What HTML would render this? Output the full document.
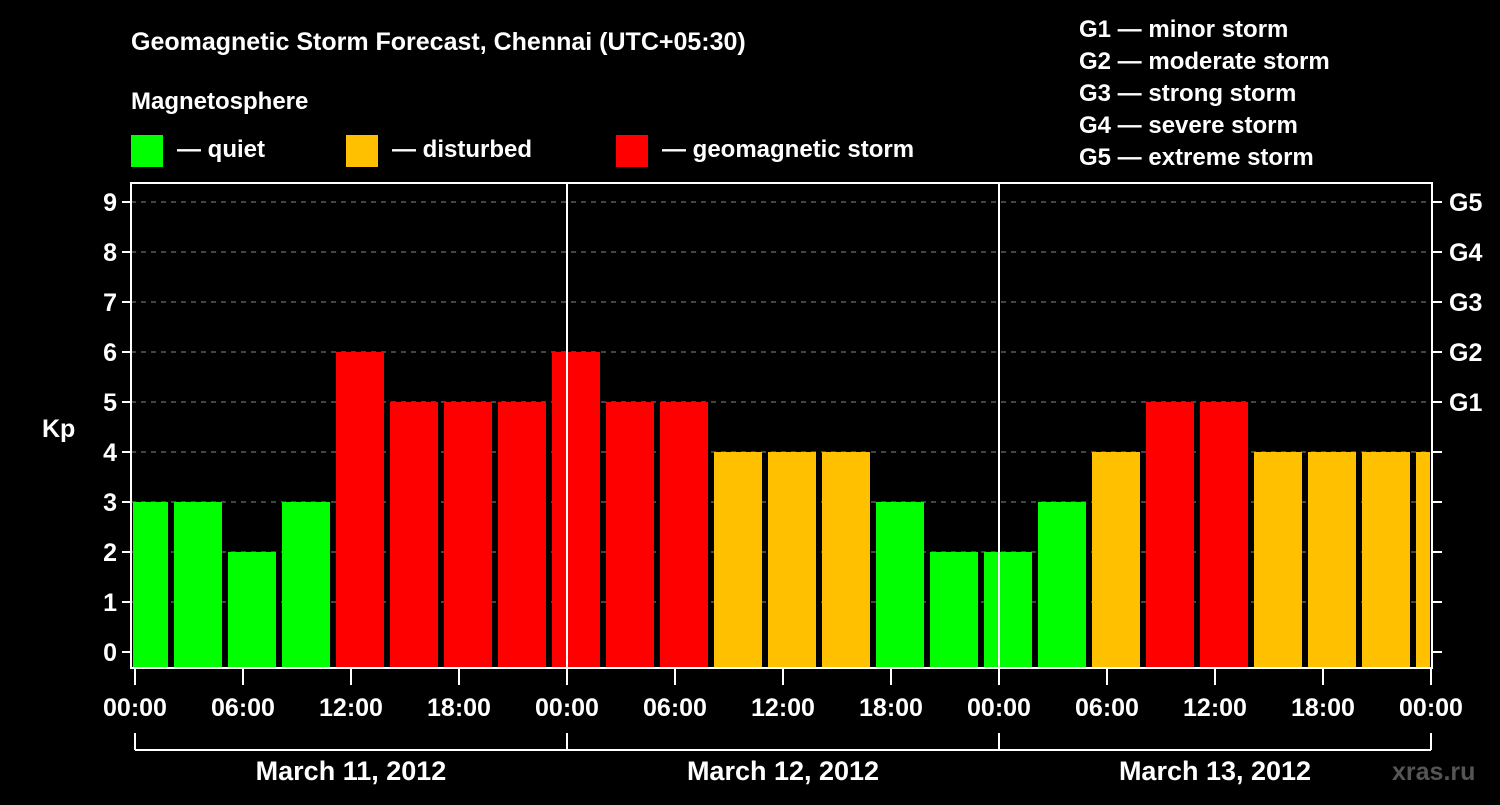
<!DOCTYPE html>
<html><head><meta charset="utf-8"><style>
body{margin:0;background:#000;width:1500px;height:800px;overflow:hidden}
svg text{font-family:"Liberation Sans",sans-serif;font-weight:bold;fill:#fff}
</style></head><body>
<svg id="chart" width="1500" height="800" xmlns="http://www.w3.org/2000/svg">
<text x="131" y="50" font-size="25">Geomagnetic Storm Forecast, Chennai (UTC+05:30)</text>
<text x="131" y="109" font-size="24">Magnetosphere</text>
<g><rect x="131" y="135" width="32" height="32" fill="#00ff00"/><text x="177" y="157" font-size="24">— quiet</text></g>
<g><rect x="346" y="135" width="32" height="32" fill="#ffc000"/><text x="392" y="157" font-size="24">— disturbed</text></g>
<g><rect x="616" y="135" width="32" height="32" fill="#ff0000"/><text x="662" y="157" font-size="24">— geomagnetic storm</text></g>
<g font-size="24">
<text x="1079" y="37">G1 — minor storm</text><text x="1079" y="69">G2 — moderate storm</text><text x="1079" y="101">G3 — strong storm</text><text x="1079" y="133">G4 — severe storm</text><text x="1079" y="165">G5 — extreme storm</text></g>
<text x="42" y="437" font-size="25">Kp</text>
<text x="1392" y="780" font-size="25" fill="#555" style="fill:#555">xras.ru</text>
<g id="grid"></g><g id="bars"></g><g id="axes"></g>
</svg>
<script>
const kpValues=[3,3,2,3,6,5,5,5,6,5,5,4,4,4,3,2,2,3,4,5,5,4,4,4,4];
const yTicks=[0,1,2,3,4,5,6,7,8,9];
const gLabels=["G1","G2","G3","G4","G5"];
const xTickLabels=["00:00","06:00","12:00","18:00","00:00","06:00","12:00","18:00","00:00","06:00","12:00","18:00","00:00"];
const dayLabels=["March 11, 2012","March 12, 2012","March 13, 2012"];
const firstSlotHour=-1; // slots start at 02:00 local minus 3h
const NS="http://www.w3.org/2000/svg";
const L=131,R=1432,T=183,B=668,X0=135,PXH=18;
const xs=h=>X0+h*PXH, ys=k=>652-50*k;
function mk(p,tag,a){const e=document.createElementNS(NS,tag);for(const k in a)e.setAttribute(k,a[k]);p.appendChild(e);return e;}
const grid=document.getElementById('grid'),bars=document.getElementById('bars'),axes=document.getElementById('axes');
yTicks.forEach(k=>{if(k>0){const g=mk(grid,'line',{x1:L,x2:R,y1:ys(k),y2:ys(k),stroke:'#888','stroke-dasharray':'5,5'});

}});
kpValues.forEach((v,i)=>{const s=xs(firstSlotHour+3*i);let x1=Math.max(s+3,L+2),x2=Math.min(s+51,R-2);
const c=v>=5?'#ff0000':v>=4?'#ffc000':'#00ff00';
const r=mk(bars,'rect',{x:x1,y:ys(v),width:x2-x1,height:B-ys(v),fill:c});

});
[1,2].forEach(d=>{const l=mk(axes,'line',{x1:xs(24*d),x2:xs(24*d),y1:T,y2:B,stroke:'#fff','stroke-width':2});

});
const f=mk(axes,'rect',{x:L,y:T,width:R-L,height:B-T,fill:'none',stroke:'#fff','stroke-width':2});


yTicks.forEach(k=>{const y=ys(k);mk(axes,'line',{x1:122,x2:L,y1:y,y2:y,stroke:'#fff','stroke-width':2});
mk(axes,'line',{x1:R,x2:1442,y1:y,y2:y,stroke:'#fff','stroke-width':2});
const t=mk(axes,'text',{x:117,y:y+9,'font-size':25,'text-anchor':'end'});t.textContent=k;


if(k>=5){const g=mk(axes,'text',{x:1449,y:y+9,'font-size':25});g.textContent=gLabels[k-5];

}});
xTickLabels.forEach((lab,i)=>{const x=xs(6*i);mk(axes,'line',{x1:x,x2:x,y1:B,y2:685,stroke:'#fff','stroke-width':2});
const t=mk(axes,'text',{x:x,y:716,'font-size':25,'text-anchor':'middle'});t.textContent=lab;

});
mk(axes,'line',{x1:xs(0),x2:xs(72),y1:750,y2:750,stroke:'#fff','stroke-width':2});
[0,24,48,72].forEach(h=>mk(axes,'line',{x1:xs(h),x2:xs(h),y1:733,y2:750,stroke:'#fff','stroke-width':2}));
dayLabels.forEach((d,i)=>{const t=mk(axes,'text',{x:xs(24*i+12),y:780,'font-size':27,'text-anchor':'middle'});t.textContent=d;

});
</script>
</body></html>
